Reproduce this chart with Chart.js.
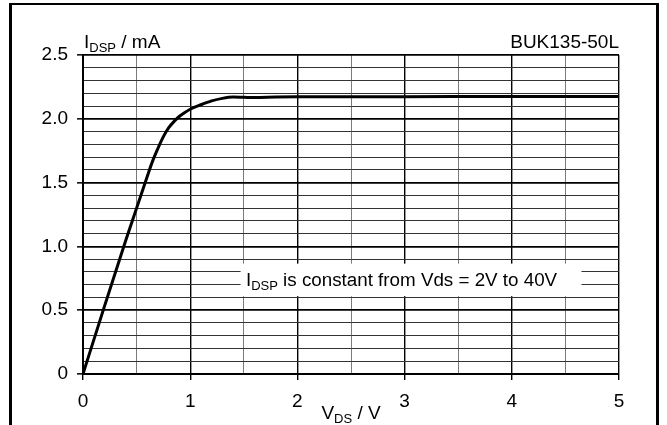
<!DOCTYPE html>
<html>
<head>
<meta charset="utf-8">
<script src="https://cdn.jsdelivr.net/npm/chart.js@4/dist/chart.umd.min.js"></script>
<style>
  html, body { margin: 0; padding: 0; background: #fff; }
  #wrap { position: relative; width: 667px; height: 425px; overflow: hidden; background: #fff; }
  #frame {
    position: absolute; left: 9px; top: 3px; width: 650px; height: 460px;
    border-left: 3px solid #000; border-right: 3px solid #000; border-top: 2px solid #000;
    box-sizing: border-box;
  }
  #c { position: absolute; left: 0; top: 0; }
</style>
</head>
<body>
<div id="wrap">
  <div id="frame"></div>
  <canvas id="c" width="667" height="425"></canvas>
</div>
<script>
// Drain-source protection current vs. drain-source voltage (BUK135-50L)
const vds  = [0, 0.2, 0.4, 0.5, 0.6, 0.65, 0.7, 0.75, 0.8, 0.85, 0.9, 0.95, 1.0, 1.1, 1.2, 1.3, 1.4, 1.5, 1.6, 1.8, 2.0, 3.0, 4.0, 5.0];
const idsp = [0, 0.53, 1.05, 1.30, 1.55, 1.67, 1.77, 1.86, 1.93, 1.98, 2.02, 2.05, 2.075, 2.11, 2.14, 2.16, 2.17, 2.168, 2.166, 2.17, 2.172, 2.173, 2.175, 2.175];

const xTickLabels = ['0', '1', '2', '3', '4', '5'];
const yTickLabels = ['0', '0.5', '1.0', '1.5', '2.0', '2.5'];

const FONT = '"Liberation Sans", Arial, sans-serif';
const SIZE = 19;

// draws a run of text pieces, some of them as subscripts
function drawRich(ctx, parts, x, y, align, size) {
  const subSize = Math.round(size * 0.7);
  let total = 0;
  const widths = parts.map(p => {
    ctx.font = (p.sub ? subSize : size) + 'px ' + FONT;
    const w = ctx.measureText(p.t).width;
    total += w;
    return w;
  });
  let cx = align === 'right' ? x - total : (align === 'center' ? x - total / 2 : x);
  ctx.textAlign = 'left';
  ctx.textBaseline = 'alphabetic';
  ctx.fillStyle = '#000';
  parts.forEach((p, i) => {
    ctx.font = (p.sub ? subSize : size) + 'px ' + FONT;
    ctx.fillText(p.t, cx, p.sub ? y + 4 : y);
    cx += widths[i];
  });
}

const labelsPlugin = {
  id: 'labelsPlugin',
  beforeDatasetsDraw(chart) {
    const { ctx } = chart;
    const xs = chart.scales.x, ys = chart.scales.y;
    ctx.save();
    // white note box over the grid
    const bx0 = xs.getPixelForValue(1.47), bx1 = xs.getPixelForValue(4.65);
    const by0 = ys.getPixelForValue(0.865), by1 = ys.getPixelForValue(0.61);
    ctx.fillStyle = '#fff';
    ctx.fillRect(bx0, by0, bx1 - bx0, by1 - by0);
    drawRich(ctx, [{ t: 'I' }, { t: 'DSP', sub: true }, { t: ' is constant from Vds = 2V to 40V' }],
      xs.getPixelForValue(1.52), ys.getPixelForValue(0.69), 'left', 18.8);
    ctx.restore();
  },
  afterDraw(chart) {
    const { ctx, chartArea } = chart;
    ctx.save();
    drawRich(ctx, [{ t: 'I' }, { t: 'DSP', sub: true }, { t: ' / mA' }], chartArea.left + 1, 48, 'left', SIZE);
    drawRich(ctx, [{ t: 'BUK135-50L' }], chartArea.right, 48, 'right', SIZE);
    drawRich(ctx, [{ t: 'V' }, { t: 'DS', sub: true }, { t: ' / V' }], 351, 419, 'center', SIZE);
    ctx.restore();
  }
};

const points = vds.map((v, i) => ({ x: v, y: idsp[i] }));

new Chart(document.getElementById('c'), {
  type: 'line',
  data: {
    datasets: [{
      data: points,
      borderColor: '#000',
      borderWidth: 3,
      pointRadius: 0,
      fill: false,
      cubicInterpolationMode: 'monotone'
    }]
  },
  options: {
    responsive: false,
    animation: false,
    layout: { padding: { top: 55, right: 48, left: 0, bottom: 0 } },
    plugins: { legend: { display: false }, tooltip: { enabled: false } },
    scales: {
      x: {
        type: 'linear',
        min: 0, max: 5,
        afterFit(s) { s.height = 51; },
        border: { display: true, color: '#000', width: 2 },
        grid: {
          color: c => Number.isInteger(c.tick.value) ? '#000' : '#7a7a7a',
          lineWidth: c => Number.isInteger(c.tick.value) ? 1.4 : 1,
          tickColor: c => Number.isInteger(c.tick.value) ? '#000' : 'rgba(0,0,0,0)',
          tickLength: 6,
          tickWidth: 1.4
        },
        ticks: {
          stepSize: 0.5,
          autoSkip: false,
          maxRotation: 0,
          padding: 10,
          color: '#000',
          font: { family: FONT, size: SIZE },
          callback: v => Number.isInteger(v) ? xTickLabels[v] : ''
        }
      },
      y: {
        type: 'linear',
        min: 0, max: 2.5,
        afterFit(s) { s.width = 83; },
        border: { display: true, color: '#000', width: 2 },
        grid: {
          color: c => (Math.round(c.tick.value * 10) % 5 === 0) ? '#000' : '#333',
          lineWidth: c => (Math.round(c.tick.value * 10) % 5 === 0) ? 1.7 : 1,
          tickColor: c => (Math.round(c.tick.value * 10) % 5 === 0) ? '#000' : 'rgba(0,0,0,0)',
          tickLength: 6,
          tickWidth: 1.5
        },
        ticks: {
          stepSize: 0.1,
          autoSkip: false,
          padding: 9,
          color: '#000',
          font: { family: FONT, size: SIZE },
          callback: v => {
            const k = Math.round(v * 10);
            return k % 5 === 0 ? yTickLabels[k / 5] : '';
          }
        }
      }
    }
  },
  plugins: [labelsPlugin]
});
</script>
</body>
</html>
